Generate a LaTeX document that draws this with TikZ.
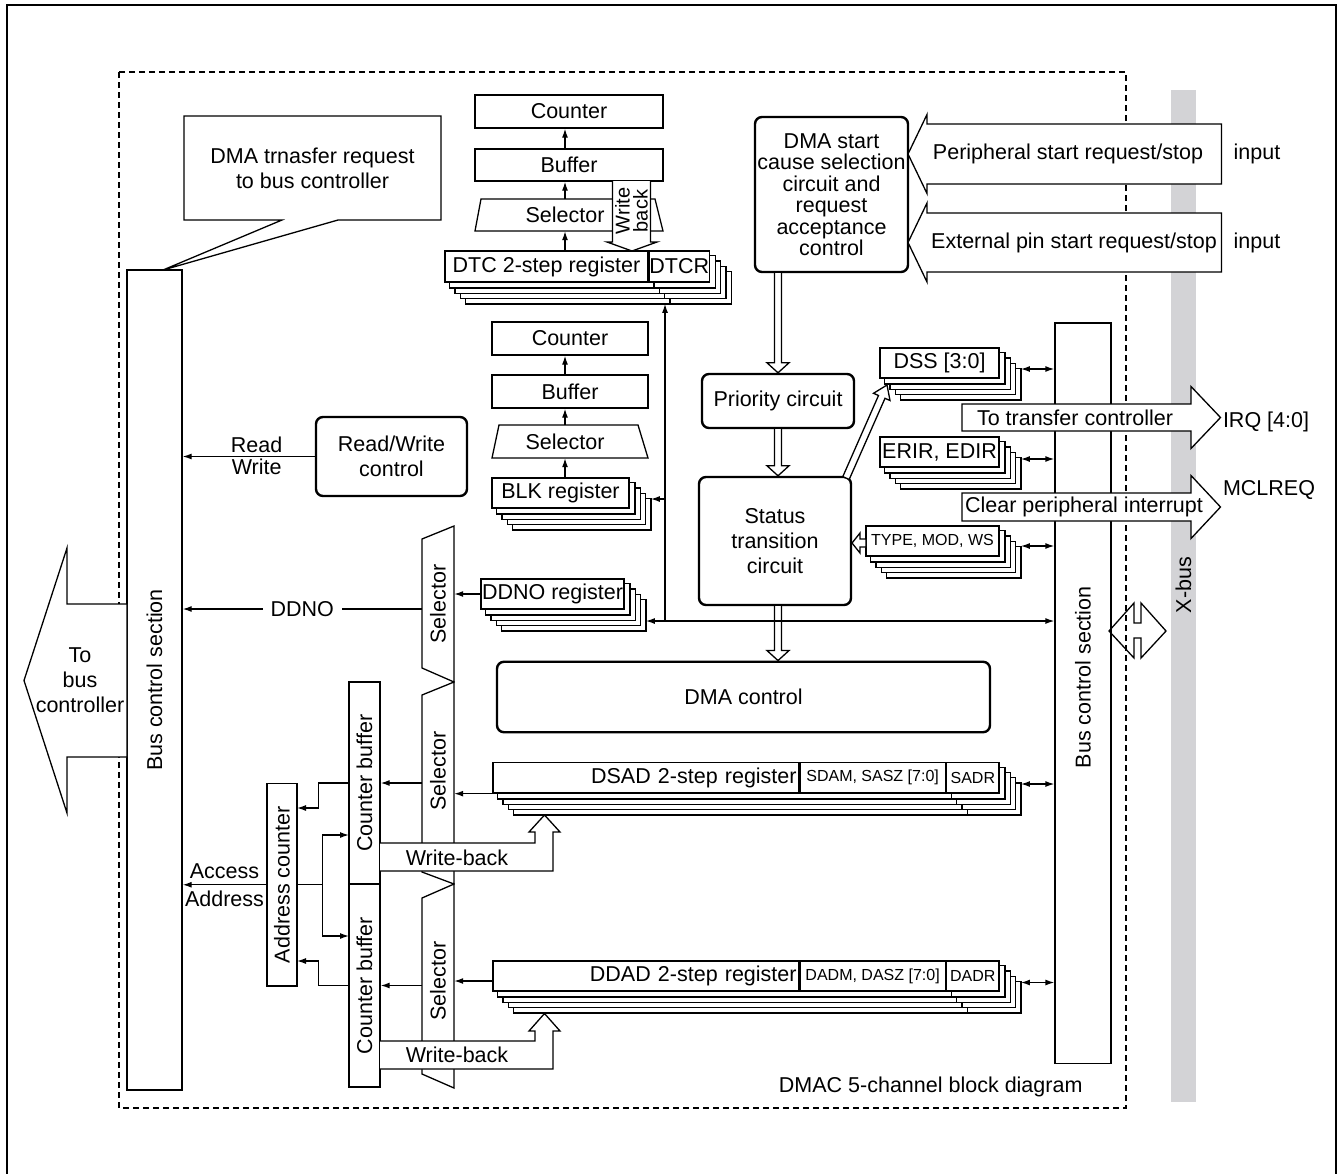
\documentclass[tikz,border=0pt]{standalone}
\usepackage{fontspec}
\setmainfont{Liberation Sans}
\usepackage{graphicx}
\usetikzlibrary{arrows.meta,calc}
\definecolor{busgray}{RGB}{211,211,214}
\pgfdeclarelayer{bg}
\pgfdeclarelayer{stack}
\pgfsetlayers{bg,stack,main}

\tikzset{
  box/.style={draw,fill=white,line width=1.3pt,inner sep=0pt},
  ctrl/.style={draw,fill=white,line width=2.4pt,rounded corners=7pt,inner sep=0pt,align=center},
  hollow/.style={draw,fill=white,line width=1.3pt,line join=miter},
  link/.style={draw,line width=1.3pt},
  small/.style={font=\fontsize{16}{17}\selectfont},
}

% 寄存器后面叠起来的四层
\newcommand{\regstack}[2]{%
  \begin{pgfonlayer}{stack}
  \foreach \k in {4,3,2,1}{
    \draw[box] ([shift={(5.3*\k,5.3*\k)}]#1.north west) rectangle ([shift={(5.3*\k,5.3*\k)}]#2.south east);
    \draw[link] ([shift={(5.3*\k,5.3*\k)}]#2.north west) -- ([shift={(5.3*\k,5.3*\k)}]#2.south west);
  }
  \end{pgfonlayer}}

% 水平空心箭头: 尖端x, y, 箭头底x, 尾端x, 杆半宽, 头半宽
\newcommand{\blockarrowh}[6]{%
  \draw[hollow] (#4,#2-#5) -- (#3,#2-#5) -- (#3,#2-#6) -- (#1,#2)
     -- (#3,#2+#6) -- (#3,#2+#5) -- (#4,#2+#5) -- cycle;}

% 向下的空心箭头, 从 #1 到 #2
\newcommand{\hollowdown}[2]{%
  \draw[hollow] let \p1=(#1), \p2=(#2) in
    (\x1-3.5pt,\y1) -- (\x1-3.5pt,\y2+10pt) -- (\x1-11pt,\y2+10pt) -- (\x1,\y2)
    -- (\x1+11pt,\y2+10pt) -- (\x1+3.5pt,\y2+10pt) -- (\x1+3.5pt,\y1);}

\begin{document}
\begin{tikzpicture}[x=1pt,y=-1pt,line width=1.3pt,
    font=\fontsize{21.5}{25}\selectfont,>={Latex[length=9pt,width=6pt]}]
  \useasboundingbox (0,0) rectangle (1343,1173);

  % 外框、虚线框和 X 总线
  \begin{pgfonlayer}{bg}
    \draw[line width=2.4pt] (7,5) rectangle (1336,1200);
    \fill[busgray] (1171,90) rectangle (1196,1102);
    \draw[line width=1.2pt,dash pattern=on 6pt off 4pt] (119,72) rectangle (1126,1108);
  \end{pgfonlayer}
  \node[rotate=90] (xbus) at (1183.5,585) {X-bus};

  % 两侧的总线控制部分
  \node[box,minimum width=55pt,minimum height=820pt] (busl) at (154.5,680)
       {\rotatebox{90}{Bus control section}};
  \node[box,minimum width=56pt,minimum height=740.5pt] (busr) at (1083,693.25)
       {\rotatebox{90}{\hspace*{32pt}Bus control section}};

  % 请求标注
  \draw[hollow] (184,116) -- (441,116) -- (441,220) -- (338,220) -- (163,270)
        -- (282,220) -- (184,220) -- cycle;
  \node[align=center] (req) at (312.5,168) {DMA trnasfer request\\to bus controller};

  % DTC 部分
  \node[box,minimum width=188pt,minimum height=33pt] (ctr1) at (569,111.5) {Counter};
  \node[box,minimum width=188pt,minimum height=32pt] (buf1) at (569,165) {Buffer};
  \draw[hollow] (475,231) -- (481,199) -- (655,199) -- (663,231) -- cycle;
  \node[minimum height=32pt,inner sep=0pt] (sel1) at (565,215) {Selector};
  \node[box,minimum width=203pt,minimum height=31pt] (dtc) at (546.5,266.5) {DTC 2-step register};
  \node[box,minimum width=60pt,minimum height=31pt,anchor=west] (dtcr) at (dtc.east) {DTCR};
  \regstack{dtc}{dtcr}
  \draw[link,->] (dtc.north -| sel1) -- (sel1.south);
  \draw[link,->] (sel1.north) -- (sel1 |- buf1.south);
  \draw[link,->] (sel1 |- buf1.north) -- (sel1 |- ctr1.south);
  \draw[hollow] (612.5,181) -- (612.5,242) -- (607,242) -- (632,251) -- (657,242)
        -- (650.5,242) -- (650.5,181);
  \node[rotate=90,align=center,inner sep=0pt,font=\fontsize{20}{18}\selectfont] (wbt) at (631.5,211) {Write\\back};

  % BLK 部分
  \node[box,minimum width=156pt,minimum height=33pt] (ctr2) at (570,338.5) {Counter};
  \node[box,minimum width=156pt,minimum height=33pt] (buf2) at (570,391.5) {Buffer};
  \draw[hollow] (492,458) -- (499,425) -- (638,425) -- (648,458) -- cycle;
  \node[minimum height=33pt,inner sep=0pt] (sel2) at (565,441.5) {Selector};
  \node[box,minimum width=137pt,minimum height=30pt] (blk) at (560.5,493) {BLK register};
  \regstack{blk}{blk}
  \draw[link,->] (sel2 |- blk.north) -- (sel2.south);
  \draw[link,->] (sel2.north) -- (sel2 |- buf2.south);
  \draw[link,->] (sel2 |- buf2.north) -- (sel2 |- ctr2.south);

  % 读写控制
  \node[ctrl,minimum width=151pt,minimum height=79pt] (rw) at (391.5,456.5) {Read/Write\\control};
  \draw[link,->] (rw.west) -- (rw.west -| busl.east)
        node[pos=0.44,above,inner sep=3pt] {Read} node[pos=0.44,below,inner sep=2pt] {Write};

  % DDNO 部分
  \draw[hollow] (422,539) -- (454,526) -- (454,682) -- (422,668) -- cycle;
  \node[minimum width=32pt,inner sep=0pt] (selA) at (438,604) {\rotatebox{90}{Selector}};
  \node[box,minimum width=143pt,minimum height=30pt] (ddno) at (552.5,594) {DDNO register};
  \regstack{ddno}{ddno}
  \draw[link,->] (ddno.west) -- (ddno.west -| selA.east);
  \coordinate (ddno-o) at ([yshift=-5pt]selA.west);
  \draw[link,->] (ddno-o) -- (ddno-o -| busl.east)
        node[midway,fill=white,inner xsep=8pt,inner ysep=1pt] {DDNO};

  % 中间的控制电路
  \node[ctrl,minimum width=153pt,minimum height=155pt,font=\fontsize{21.5}{21.5}\selectfont]
       (start) at (831.5,194.5) {DMA start\\cause selection\\circuit and\\request\\acceptance\\control};
  \node[ctrl,minimum width=152pt,minimum height=54pt] (prio) at (778,401) {Priority circuit};
  \node[ctrl,minimum width=152pt,minimum height=128pt] (stat) at (775,541) {Status\\transition\\circuit};
  \node[ctrl,minimum width=493pt,minimum height=70.5pt] (dmac) at (743.5,697) {DMA control};
  \hollowdown{prio.north |- start.south}{prio.north}
  \hollowdown{prio.south}{prio.south |- stat.north}
  \hollowdown{prio.south |- stat.south}{prio.south |- dmac.north}

  % 右侧的寄存器
  \node[box,minimum width=119pt,minimum height=30pt] (dss) at (939.5,363) {DSS [3:0]};
  \node[box,minimum width=119pt,minimum height=30pt] (erir) at (939.5,452) {ERIR, EDIR};
  \node[box,small,minimum width=133pt,minimum height=30pt] (type) at (932.5,541) {TYPE, MOD, WS};
  \foreach \reg/\dy in {dss/6,erir/7,type/5}{
    \regstack{\reg}{\reg}
    \coordinate (\reg-r) at ([shift={(21.2,\dy)}]\reg.east);
    \draw[link,<->] (\reg-r) -- (\reg-r -| busr.west);
  }
  \draw[hollow] (842.8,476.6) -- (878.5,395.5) -- (873.5,393.3) -- (887,385)
        -- (890,400.5) -- (885,398.3) -- (849.2,479.4) -- cycle;
  \blockarrowh{852}{543}{860}{866}{4}{10}

  % 输出到右边的空心箭头
  \blockarrowh{1220.5}{417.5}{1191}{962}{13.5}{31}
  \node (toxfer) at (1075,418) {To transfer controller};
  \node (irq) at (1266,422) {IRQ [4:0]};
  \blockarrowh{1220.5}{507}{1191}{962}{14}{31.5}
  \node (clrint) at (1084,507) {Clear peripheral interrupt};
  \node (mclreq) at (1269,490) {MCLREQ};

  % 输入的空心箭头
  \blockarrowh{908}{154}{927}{1221.5}{30}{39.5}
  \node (perreq) at (1068,154) {Peripheral start request/stop};
  \node (in1) at (1257,154) {input};
  \blockarrowh{908}{242.5}{927}{1221.5}{29.5}{39.5}
  \node (extreq) at (1074,242.5) {External pin start request/stop};
  \node (in2) at (1257,242.5) {input};

  % 到总线控制器
  \blockarrowh{24}{680.5}{67}{127}{76.5}{132.5}
  \node[align=center] (tobus) at (80,680) {To\\bus\\controller};

  % DSAD 与 DDAD 两级寄存器
  \node[box,minimum height=30.5pt,text width=301.6pt,align=right,inner xsep=2pt]
       (dsad) at (645.8,777.75) {DSAD 2-step register};
  \node[box,small,minimum width=145.4pt,minimum height=30.5pt,anchor=west] (sdam) at (dsad.east) {SDAM, SASZ [7:0]};
  \node[box,small,minimum width=52.5pt,minimum height=30.5pt,anchor=west] (sadr) at (sdam.east) {SADR};
  \regstack{dsad}{sadr}
  \node[box,minimum height=30pt,text width=301.6pt,align=right,inner xsep=2pt]
       (ddad) at (645.8,976) {DDAD 2-step register};
  \node[box,small,minimum width=145.4pt,minimum height=30pt,anchor=west] (dadm) at (ddad.east) {DADM, DASZ [7:0]};
  \node[box,small,minimum width=52.5pt,minimum height=30pt,anchor=west] (dadr) at (dadm.east) {DADR};
  \regstack{ddad}{dadr}
  \coordinate (dsad-r) at ([shift={(21.2,6.25)}]sadr.east);
  \draw[link,<->] (dsad-r) -- (dsad-r -| busr.west);
  \coordinate (ddad-r) at ([shift={(21.2,6.5)}]dadr.east);
  \draw[link,<->] (ddad-r) -- (ddad-r -| busr.west);

  % 地址计数部分
  \node[box,minimum width=31pt,minimum height=202pt] (cbufU) at (364.5,783) {\rotatebox{90}{Counter buffer}};
  \node[box,minimum width=31pt,minimum height=203pt] (cbufL) at (364.5,985.5) {\rotatebox{90}{Counter buffer}};
  \node[box,minimum width=30pt,minimum height=202.5pt] (addr) at (282,884.75) {\rotatebox{90}{Address counter}};
  \draw[hollow] (422,695) -- (454,682) -- (454,884) -- (422,872) -- cycle;
  \node[minimum width=32pt,inner sep=0pt] (selB) at (438,771) {\rotatebox{90}{Selector}};
  \draw[hollow] (422,898) -- (454,884) -- (454,1088) -- (422,1074) -- cycle;
  \node[minimum width=32pt,inner sep=0pt] (selC) at (438,981) {\rotatebox{90}{Selector}};
  \draw[link,->] (dsad.south west) -- (dsad.south west -| selB.east);
  \draw[link,->] (selB.west |- cbufU.east) -- (cbufU.east);
  \coordinate (ddad-l) at ([yshift=-5pt]ddad.west);
  \draw[link,->] (ddad-l) -- (ddad-l -| selC.east);
  \draw[link,->] (selC.west |- cbufL.east) -- (cbufL.east);
  \coordinate (au) at (297,808);
  \coordinate (al) at (297,961);
  \draw[link,->] (cbufU.west) -- ++(-30,0) |- (au);
  \draw[link,->] (cbufL.west) -- ++(-30,0) |- (al);
  \draw[link] (addr.east) -- ++(25,0) coordinate (aj);
  \coordinate (bu) at (349,835);
  \coordinate (bl) at (349,936);
  \draw[link,->] (aj) |- (bu);
  \draw[link,->] (aj) |- (bl);
  \draw[link,->] (addr.west) -- (addr.west -| busl.east)
        node[midway,above,inner sep=5pt] {Access} node[midway,below,inner sep=6pt] {Address};

  % 写回
  \draw[hollow] (380,843) -- (535,843) -- (535,832) -- (529,832) -- (544.5,815) -- (560,832)
        -- (553,832) -- (553,871) -- (380,871);
  \node (wbU) at (457,858) {Write-back};
  \draw[hollow] (380,1041) -- (535,1041) -- (535,1031) -- (529,1031) -- (544.5,1013.5) -- (560,1031)
        -- (553,1031) -- (553,1069) -- (380,1069);
  \node (wbL) at (457,1055) {Write-back};

  % 公共连线
  \coordinate (ddno-r) at ([shift={(21.2,27)}]ddno.east);
  \draw[link,<->] (ddno-r) -- (ddno-r -| busr.west);
  \coordinate (fj) at (665,0);
  \coordinate (dtc-b) at ([yshift=-21.2pt]dtcr.south);
  \draw[link,->] (ddno-r -| fj) -- (fj |- dtc-b);
  \coordinate (blk-r) at ([shift={(21.2,6)}]blk.east);
  \draw[link,->] (blk-r -| fj) -- (blk-r);

  % X 总线双向箭头
  \draw[link] (1109,631) -- (1134,603) -- (1134,623) -- (1141,623) -- (1141,603) -- (1166,631)
        -- (1141,658) -- (1141,638) -- (1134,638) -- (1134,658) -- cycle;

  \node[anchor=east] (cap) at (1086,1087) {DMAC 5-channel block diagram};
\end{tikzpicture}
\end{document}
